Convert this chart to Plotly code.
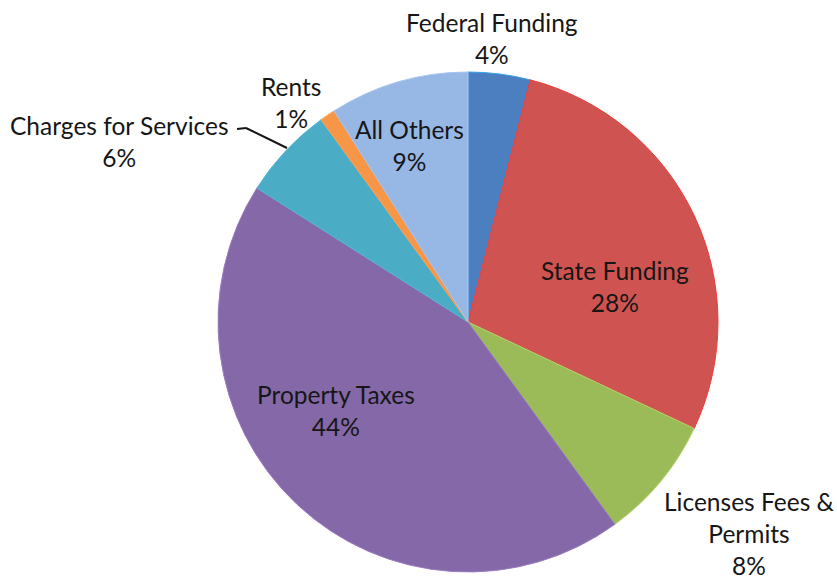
import plotly.graph_objects as go

# Revenue sources, clockwise from 12 o'clock
categories = ["Federal Funding", "State Funding", "Licenses Fees & Permits",
              "Property Taxes", "Charges for Services", "Rents", "All Others"]
shares = [4, 28, 8, 44, 6, 1, 9]

# Label text blocks (name lines + percent)
label_lines = [["Federal Funding"], ["State Funding"], ["Licenses Fees &", "Permits"],
               ["Property Taxes"], ["Charges for Services"], ["Rents"], ["All Others"]]

fill_colors = ["#4C7FC0", "#CF5451", "#9BBB59", "#8468A8", "#4BACC6", "#F79646", "#97B7E5"]
edge_colors = ["#3AA0E6", "#F03A3A", "#B5D46A", "#9A7CC0", "#4FB8D8", "#FFA050", "#A8C4EE"]

W, H = 837, 580
# pixel centre of each label block
label_px = [(492, 38), (615, 286), (749, 533), (336, 410), (119, 141), (291, 102), (409, 145)]

fig = go.Figure(go.Pie(
    labels=categories,
    values=shares,
    sort=False,
    direction="clockwise",
    rotation=0,
    marker=dict(colors=fill_colors, line=dict(color=edge_colors, width=1)),
    textinfo="none",
    hoverinfo="label+percent",
    showlegend=False,
    domain=dict(x=[218 / W, 718 / W], y=[1 - 572 / H, 1 - 72 / H]),
))

for lines, share, (px, py) in zip(label_lines, shares, label_px):
    fig.add_annotation(
        x=px / W, y=1 - py / H, xref="paper", yref="paper",
        xanchor="center", yanchor="middle", align="center",
        text="<br>".join(lines + [f"{share}%"]),
        showarrow=False,
        font=dict(family="Lato", size=24.5, color="#161616"),
    )

# leader line for the Charges for Services label
leader = [(237, 129), (246, 128), (287, 148)]
for (x0, y0), (x1, y1) in zip(leader[:-1], leader[1:]):
    fig.add_shape(type="line", xref="paper", yref="paper",
                  x0=x0 / W, y0=1 - y0 / H, x1=x1 / W, y1=1 - y1 / H,
                  line=dict(color="#161616", width=2))

fig.update_layout(
    width=W, height=H,
    margin=dict(l=0, r=0, t=0, b=0),
    paper_bgcolor="white", plot_bgcolor="white",
)

fig.write_html("out.html")
